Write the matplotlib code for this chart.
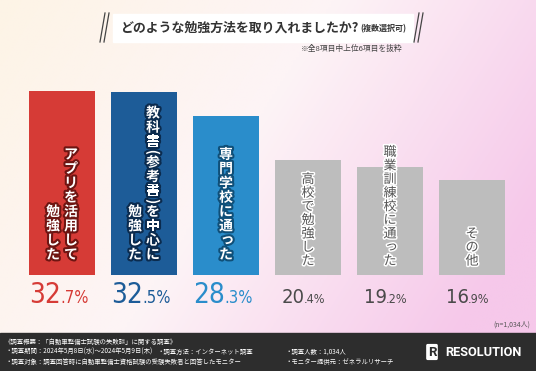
import numpy as np
import matplotlib
matplotlib.use("Agg")
import matplotlib.pyplot as plt
import matplotlib.patheffects as pe
from matplotlib import font_manager

# data
labels = ["アプリを活用して勉強した", "教科書(参考書)を中心に勉強した", "専門学校に通った",
          "高校で勉強した", "職業訓練校に通った", "その他"]
# columns as written vertically (right column first)
label_cols = [["アプリを活用して", "勉強した"],
              ["教科書(参考書)を中心に", "勉強した"],
              ["専門学校に通った"],
              ["高校で勉強した"],
              ["職業訓練校に通った"],
              ["その他"]]
values = [32.7, 32.5, 28.3, 20.4, 19.2, 16.9]
bar_colors = ["#D63B36", "#1D5C98", "#2A8DCB", "#BDBDBD", "#BDBDBD", "#BDBDBD"]
text_colors = ["#D63B36", "#1D5C98", "#2A8DCB", "#4A4A4A", "#4A4A4A", "#4A4A4A"]
outline_colors = ["#6E1512", "#0B2B4E", "#0F4F78", "#FFFFFF", "#FFFFFF", "#FFFFFF"]

title = "どのような勉強方法を取り入れましたか?"
title_sub = "(複数選択可)"
note = "※全8項目中上位6項目を抜粋"
n_text = "(n=1,034人)"
footer = [("《調査概要：「自動車整備士試験の失敗談」に関する調査》", 5, 342),
          ("・調査期間：2024年5月8日(水)～2024年5月9日(木)", 5, 352),
          ("・調査方法：インターネット調査", 158, 352),
          ("・調査人数：1,034人", 285, 352),
          ("・調査対象：調査回答時に自動車整備士資格試験の受験失敗者と回答したモニター", 5, 362),
          ("・モニター提供元：ゼネラルリサーチ", 285, 362)]

JP = "Noto Sans CJK JP"
cond = [f for f in font_manager.fontManager.ttflist
        if f.name == "DejaVu Sans" and "ondensed" in f.fname]
NUM = dict(family="DejaVu Sans", fontstretch="condensed") if cond else dict(family="Roboto")
plt.rcParams["font.family"] = [JP, "DejaVu Sans"]

W, H = 536, 371
fig = plt.figure(figsize=(W / 100, H / 100), dpi=100)

# background in pixel coordinates
bg = fig.add_axes([0, 0, 1, 1])
bg.set_xlim(0, W)
bg.set_ylim(H, 0)
bg.axis("off")
xx, yy = np.meshgrid(np.linspace(0, 1, 200), np.linspace(0, 1, 140))
c_left = np.array([253, 244, 230]) / 255
c_mid = np.array([253, 244, 246]) / 255
c_right = np.array([246, 200, 234]) / 255
t = np.clip(xx * 0.8 + yy * 0.35, 0, 1)
img = np.where(t[..., None] < 0.5,
               c_left + (c_mid - c_left) * (t[..., None] / 0.5),
               c_mid + (c_right - c_mid) * ((t[..., None] - 0.5) / 0.5))
bg.imshow(img, extent=(0, W, H, 0), aspect="auto", zorder=0)

# title banner
bg.fill([113, 413, 413, 113], [14, 14, 42, 42], color="white", zorder=1)
for x0 in (100, 104, 414, 418):
    bg.plot([x0, x0 + 5], [42, 13], color="#444444", lw=0.9, zorder=2)

# bars
ax = fig.add_axes([21 / W, (H - 275) / H, 492 / W, 225 / H])
ax.patch.set_alpha(0)
x = np.arange(len(values))
ax.bar(x, values, width=0.805, color=bar_colors, zorder=2)
ax.set_xlim(-0.5, len(values) - 0.5)
ax.set_ylim(0, 40)
ax.axis("off")

# foreground overlay for texts
fg = fig.add_axes([0, 0, 1, 1])
fg.set_xlim(0, W)
fg.set_ylim(H, 0)
fg.axis("off")
fg.patch.set_alpha(0)

fg.text(120, 28, title, fontsize=9.3, fontweight="bold", color="#333333",
        ha="left", va="center")
fg.text(360, 28.5, title_sub, fontsize=5.8, fontweight="bold", color="#333333",
        ha="left", va="center")
fg.text(403, 49, note, fontsize=5.6, color="#444444", ha="right", va="center")


def vtext(cx, bottom, s, step, **kw):
    y = bottom
    for ch in reversed(s):
        paren = ch in "()"
        st = step * 0.45 if paren else step
        y -= st
        small = ch in "っゃゅょ"
        fg.text(cx + (1.5 if small else 0), y + st / 2 - (1 if small else 0), ch,
                ha="center", va="center", rotation=-90 if paren else 0,
                rotation_mode="anchor" if paren else "default", **kw)


for i, cols in enumerate(label_cols):
    cx = 21 + (i + 0.5) * 82
    colored = i < 3
    step = 14.3 if colored else 13.6
    fs = 10.0 if colored else 9.4
    n = len(cols)
    offs = [(n - 1) / 2 * 18 - k * 18 for k in range(n)]
    for col, off in zip(cols, offs):
        vtext(cx + off, 262 if colored else 268, col, step, fontsize=fs,
              fontweight="bold" if colored else "normal",
              color="white" if colored else "#555555",
              path_effects=[pe.withStroke(linewidth=3.0 if colored else 2.2,
                                          foreground=outline_colors[i])])
    # percent
    big, small = ("%.1f" % values[i]).split(".")
    anchor = cx - (2 if colored else 4)
    fg.text(anchor + 1, 303, big, fontsize=20 if colored else 14.5,
            color=text_colors[i], ha="right", va="baseline", **NUM)
    fg.text(anchor, 303, "." + small + "%", fontsize=12 if colored else 9,
            color=text_colors[i], ha="left", va="baseline", **NUM)

fg.text(530, 325, n_text, fontsize=5.0, color="#555555", ha="right", va="center")

# footer
bg.fill([0, W, W, 0], [333, 333, H, H], color="#2D2D2D", zorder=4)
for s, fx, fy in footer:
    fg.text(fx, fy, s, fontsize=4.6, color="white", ha="left", va="center")
fg.text(445, 352, "RESOLUTION", family="Roboto", fontsize=9.2, fontweight="bold",
        color="white", ha="left", va="center")
fg.text(432, 352, "R", family="Roboto", fontsize=9.5, fontweight="bold",
        color="#2D2D2D", ha="center", va="center",
        bbox=dict(boxstyle="round,pad=0.12", fc="white", ec="none"))

fig.savefig("out.png", dpi=100)
